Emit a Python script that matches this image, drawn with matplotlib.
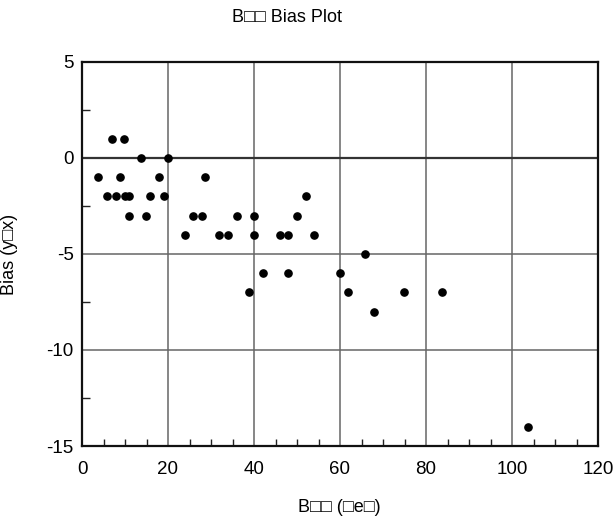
import numpy as np
import matplotlib
matplotlib.use('Agg')
import matplotlib.pyplot as plt
from matplotlib.ticker import MultipleLocator

plt.rcParams['font.family'] = ['Liberation Sans', 'DejaVu Sans']
plt.rcParams['axes.unicode_minus'] = False

# x value and bias
x_vals = [3.8, 5.7, 6.9, 8.0, 8.9, 9.8, 9.9, 11.0, 11.0, 13.8, 14.9, 15.8,
          17.9, 19.0, 20.0, 23.9, 25.9, 28.0, 28.6, 31.9, 34.0, 36.1, 38.9,
          40.1, 40.1, 42.0, 46.0, 47.9, 47.9, 50.0, 52.0, 54.0, 60.0, 61.9,
          65.9, 67.9, 74.9, 83.8, 103.7]
bias = [-1, -2, 1, -2, -1, 1, -2, -2, -3, 0, -3, -2,
        -1, -2, 0, -4, -3, -3, -1, -4, -4, -3, -7,
        -3, -4, -6, -4, -4, -6, -3, -2, -4, -6, -7,
        -5, -8, -7, -7, -14]

title = 'B\u25a1\u25a1 Bias Plot'
xlabel = 'B\u25a1\u25a1 (\u25a1e\u25a1)'
ylabel = 'Bias (y\u25a1x)'

fig = plt.figure(figsize=(6.16, 5.19), dpi=100)
ax = fig.add_axes([82 / 616, 1 - 446 / 519, 516 / 616, 384 / 519])

ax.set_xlim(0, 120)
ax.set_ylim(-15, 5)
ax.xaxis.set_major_locator(MultipleLocator(20))
ax.xaxis.set_minor_locator(MultipleLocator(5))
ax.yaxis.set_major_locator(MultipleLocator(5))
ax.yaxis.set_minor_locator(MultipleLocator(2.5))

for gx in range(20, 120, 20):
    ax.axvline(gx, color='#666666', lw=1.1, zorder=1)
for gy in (-10, -5):
    ax.axhline(gy, color='#666666', lw=1.1, zorder=1)
ax.axhline(0, color='#333333', lw=1.6, zorder=1)

ax.plot(x_vals, bias, 'o', color='black', markersize=5.2, zorder=3)

ax.tick_params(which='major', length=0, labelsize=13.5)
ax.tick_params(axis='x', which='major', pad=11)
ax.tick_params(axis='y', which='major', pad=6)
ax.tick_params(which='minor', direction='in', length=5, width=1, color='#222222')
ax.tick_params(axis='y', which='minor', length=6)
for s in ax.spines.values():
    s.set_linewidth(1.6)
    s.set_color('#111111')

fig.text(232 / 616, 1 - 18 / 519, title, fontsize=13, ha='left', va='center')
fig.text(298 / 616, 1 - 507 / 519, xlabel, fontsize=13, ha='left', va='center')
fig.text(10 / 616, 1 - 254 / 519, ylabel, fontsize=13, ha='center', va='center',
         rotation=90)

fig.savefig('out.png', dpi=100)
